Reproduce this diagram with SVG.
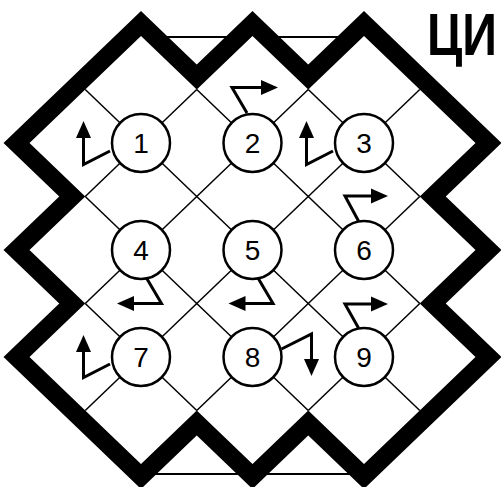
<svg xmlns="http://www.w3.org/2000/svg" width="501" height="487" viewBox="0 0 501 487">
<style>
.bg{fill:#fff}
.rule{stroke:#000;stroke-width:2;fill:none}
.border{fill:none;stroke:#000;stroke-width:36;stroke-linejoin:miter}
.inner{fill:#fff;stroke:none}
.grid{stroke:#000;stroke-width:1.5;fill:none}
.arrow{stroke:#000;stroke-width:3;fill:none;stroke-linejoin:miter;marker-end:url(#ah)}
.node circle{fill:#fff;stroke:#000;stroke-width:2.5}
.node text{font-family:"Liberation Sans",Arial,sans-serif;font-size:28px;text-anchor:middle;fill:#000}
.title{font-family:"Liberation Sans",Arial,sans-serif;font-size:60px;font-weight:bold;fill:#000}
</style>
<defs>
<marker id="ah" markerWidth="18" markerHeight="16" viewBox="0 -8 18 16" refX="1" refY="0" orient="auto" markerUnits="userSpaceOnUse">
<path d="M0,-7.5 L17,0 L0,7.5 z" fill="#000"/>
</marker>
<polygon id="board" points="141,36 29.5,143 85.25,196.5 29.5,250 85.25,303.5 29.5,357 141,464 196.75,410.5 252.5,464 308.25,410.5 364,464 475.5,357 419.75,303.5 475.5,250 419.75,196.5 475.5,143 364,36 308.25,89.5 252.5,36 196.75,89.5"/>
</defs>
<rect class="bg" x="0" y="0" width="501" height="487"/>
<g id="frame">
<line class="rule" x1="155" y1="37" x2="350" y2="37"/>
<line class="rule" x1="150" y1="474" x2="360" y2="474"/>
<use href="#board" class="border"/>
<use href="#board" class="inner"/>
</g>
<g id="connectors">
<g class="grid">
<line x1="85.25" y1="89.5" x2="419.75" y2="410.5"/>
<line x1="196.75" y1="89.5" x2="419.75" y2="303.5"/>
<line x1="308.25" y1="89.5" x2="419.75" y2="196.5"/>
<line x1="85.25" y1="196.5" x2="308.25" y2="410.5"/>
<line x1="85.25" y1="303.5" x2="196.75" y2="410.5"/>
<line x1="196.75" y1="89.5" x2="85.25" y2="196.5"/>
<line x1="308.25" y1="89.5" x2="85.25" y2="303.5"/>
<line x1="419.75" y1="89.5" x2="85.25" y2="410.5"/>
<line x1="419.75" y1="196.5" x2="196.75" y2="410.5"/>
<line x1="419.75" y1="303.5" x2="308.25" y2="410.5"/>
</g>
<path class="arrow" d="M110,151 L83.5,164.5 L83.5,137"/>
<path class="arrow" d="M247,113 L232,87.5 L262,87.5"/>
<path class="arrow" d="M333,151 L306.5,164.5 L306.5,137"/>
<path class="arrow" d="M146.5,278 L161.5,303.5 L133,303.5"/>
<path class="arrow" d="M258,278 L273,303.5 L244.5,303.5"/>
<path class="arrow" d="M358.5,221 L345,196 L372,196"/>
<path class="arrow" d="M110,364 L83.5,377.5 L83.5,351"/>
<path class="arrow" d="M281.5,349 L311.5,334 L311.5,360"/>
<path class="arrow" d="M358.5,328 L345,304 L372,304"/>
</g>
<g id="n1" class="node"><circle cx="141" cy="143" r="29"/><text x="141" y="153">1</text></g>
<g id="n2" class="node"><circle cx="252.5" cy="143" r="29"/><text x="252.5" y="153">2</text></g>
<g id="n3" class="node"><circle cx="364" cy="143" r="29"/><text x="364" y="153">3</text></g>
<g id="n4" class="node"><circle cx="141" cy="250" r="29"/><text x="141" y="260">4</text></g>
<g id="n5" class="node"><circle cx="252.5" cy="250" r="29"/><text x="252.5" y="260">5</text></g>
<g id="n6" class="node"><circle cx="364" cy="250" r="29"/><text x="364" y="260">6</text></g>
<g id="n7" class="node"><circle cx="141" cy="357" r="29"/><text x="141" y="367">7</text></g>
<g id="n8" class="node"><circle cx="252.5" cy="357" r="29"/><text x="252.5" y="367">8</text></g>
<g id="n9" class="node"><circle cx="364" cy="357" r="29"/><text x="364" y="367">9</text></g>
<text class="title" x="427" y="55" textLength="70" lengthAdjust="spacingAndGlyphs">ЦИ</text>
</svg>
